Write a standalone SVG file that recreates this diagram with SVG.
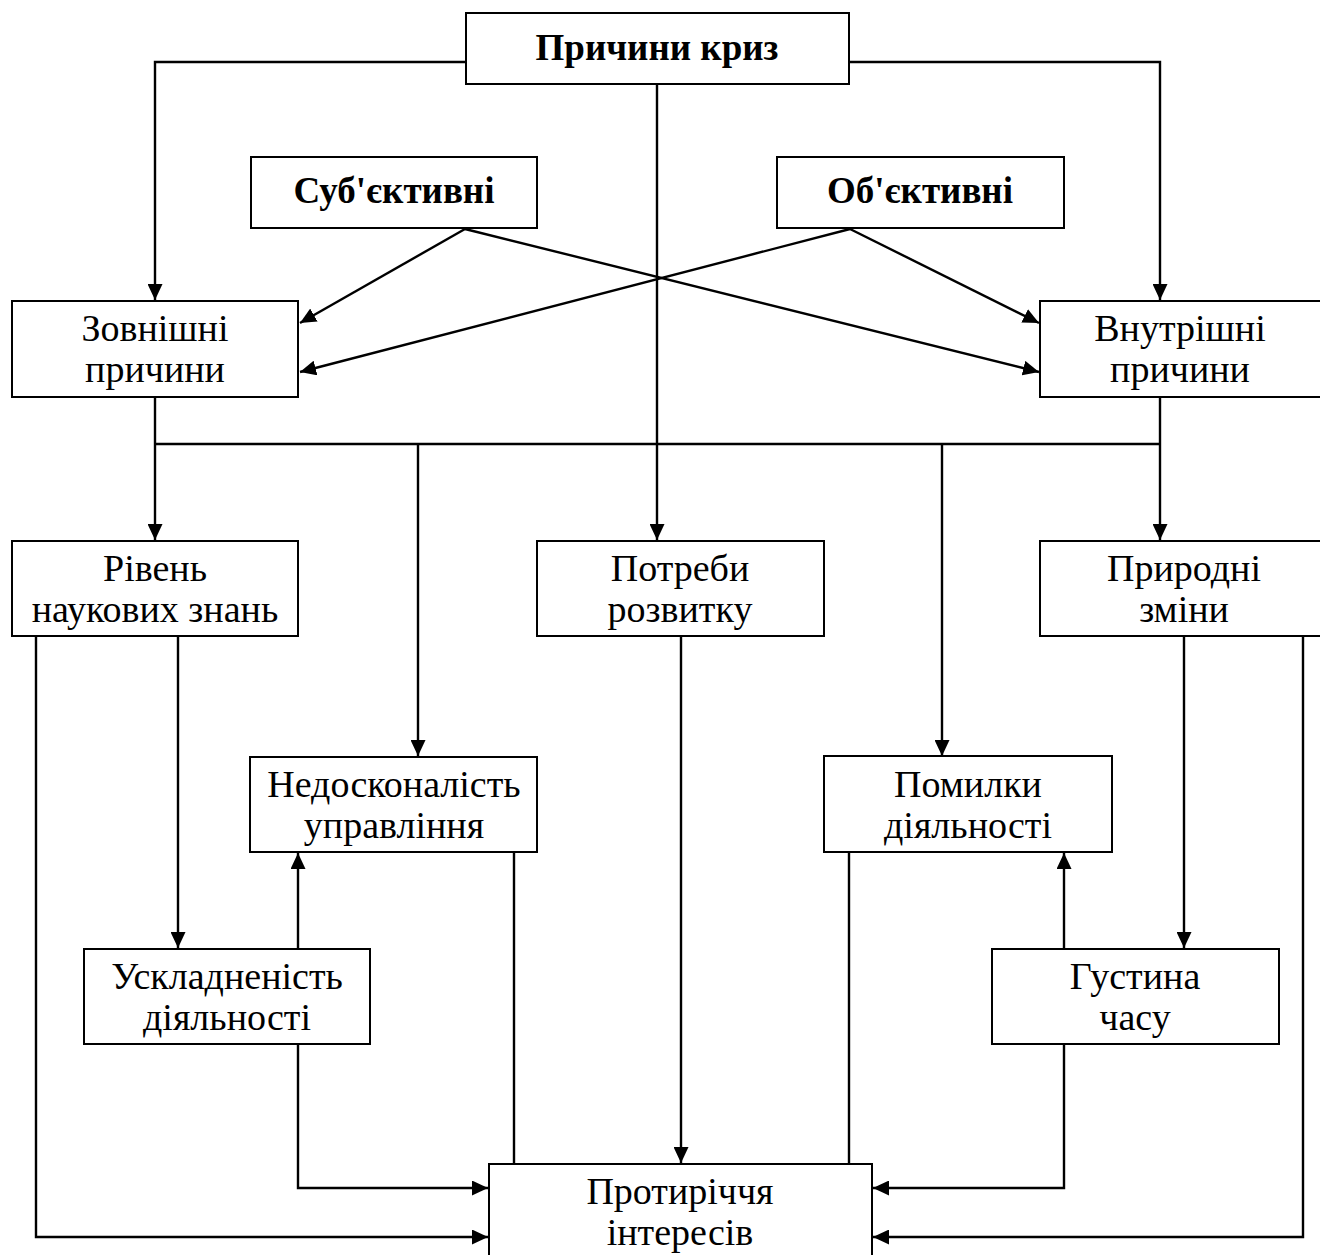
<svg xmlns="http://www.w3.org/2000/svg" width="1320" height="1255" viewBox="0 0 1320 1255">
<style>
.box{fill:#fff;stroke:#000;stroke-width:2}
.t{font-family:"Liberation Serif","Times New Roman",serif;font-size:38px;text-anchor:middle;fill:#000}
.b{font-weight:bold;font-size:37px}
.c{fill:none;stroke:#000;stroke-width:2.4}
.a{marker-end:url(#ah)}
</style>
<defs>
<marker id="ah" markerUnits="userSpaceOnUse" markerWidth="17" markerHeight="15" refX="16" refY="7.5" orient="auto" viewBox="0 0 17 15">
<path d="M0,0 L16,7.5 L0,15 z" fill="#000"/>
</marker>
</defs>
<rect width="1320" height="1255" fill="#fff"/>
<g id="connectors">
<polyline class="c a" points="466,62 155,62 155,300"/>
<polyline class="c a" points="849,62 1160,62 1160,300"/>
<polyline class="c a" points="657,85 657,540"/>
<line class="c a" x1="465" y1="229" x2="300" y2="323"/>
<line class="c a" x1="465" y1="229" x2="1039" y2="372"/>
<line class="c a" x1="850" y1="229" x2="1039" y2="323"/>
<line class="c a" x1="850" y1="229" x2="300" y2="372"/>
<line class="c" x1="155" y1="397" x2="155" y2="444"/>
<line class="c" x1="1160" y1="397" x2="1160" y2="444"/>
<line class="c" x1="155" y1="444" x2="1160" y2="444"/>
<line class="c a" x1="155" y1="444" x2="155" y2="540"/>
<line class="c a" x1="1160" y1="444" x2="1160" y2="540"/>
<line class="c a" x1="418" y1="444" x2="418" y2="756"/>
<line class="c a" x1="942" y1="444" x2="942" y2="756"/>
<polyline class="c a" points="36,636 36,1237 488,1237"/>
<line class="c a" x1="178" y1="636" x2="178" y2="948"/>
<line class="c a" x1="298" y1="949" x2="298" y2="853"/>
<polyline class="c a" points="298,1044 298,1188 488,1188"/>
<line class="c" x1="514" y1="852" x2="514" y2="1164"/>
<line class="c a" x1="681" y1="636" x2="681" y2="1163"/>
<line class="c" x1="849" y1="852" x2="849" y2="1164"/>
<line class="c a" x1="1184" y1="636" x2="1184" y2="948"/>
<line class="c a" x1="1064" y1="949" x2="1064" y2="853"/>
<polyline class="c a" points="1064,1044 1064,1188 873,1188"/>
<polyline class="c a" points="1303,636 1303,1237 873,1237"/>
</g>
<g id="n-prichyny-kryz"><rect class="box" x="466" y="13" width="383" height="71"/><text class="t b" x="657" y="60">Причини криз</text></g>
<g id="n-subjektyvni"><rect class="box" x="251" y="157" width="286" height="71"/><text class="t b" x="394" y="203">Суб'єктивні</text></g>
<g id="n-objektyvni"><rect class="box" x="777" y="157" width="287" height="71"/><text class="t b" x="920" y="203">Об'єктивні</text></g>
<g id="n-zovnishni"><rect class="box" x="12" y="301" width="286" height="96"/><text class="t" x="155" y="341">Зовнішні</text><text class="t" x="155" y="382">причини</text></g>
<g id="n-vnutrishni"><rect class="box" x="1040" y="301" width="290" height="96"/><text class="t" x="1180" y="341">Внутрішні</text><text class="t" x="1180" y="382">причини</text></g>
<g id="n-riven"><rect class="box" x="12" y="541" width="286" height="95"/><text class="t" x="155" y="581">Рівень</text><text class="t" x="155" y="622">наукових знань</text></g>
<g id="n-potreby"><rect class="box" x="537" y="541" width="287" height="95"/><text class="t" x="680" y="581">Потреби</text><text class="t" x="680" y="622">розвитку</text></g>
<g id="n-pryrodni"><rect class="box" x="1040" y="541" width="290" height="95"/><text class="t" x="1184" y="581">Природні</text><text class="t" x="1184" y="622">зміни</text></g>
<g id="n-nedoskonalist"><rect class="box" x="250" y="757" width="287" height="95"/><text class="t" x="394" y="797">Недосконалість</text><text class="t" x="394" y="838">управління</text></g>
<g id="n-pomylky"><rect class="box" x="824" y="756" width="288" height="96"/><text class="t" x="968" y="797">Помилки</text><text class="t" x="968" y="838">діяльності</text></g>
<g id="n-uskladnenist"><rect class="box" x="84" y="949" width="286" height="95"/><text class="t" x="227" y="989">Ускладненість</text><text class="t" x="227" y="1030">діяльності</text></g>
<g id="n-hustyna"><rect class="box" x="992" y="949" width="287" height="95"/><text class="t" x="1135" y="989">Густина</text><text class="t" x="1135" y="1030">часу</text></g>
<g id="n-protyrichchia"><rect class="box" x="489" y="1164" width="383" height="100"/><text class="t" x="680" y="1204">Протиріччя</text><text class="t" x="680" y="1245">інтересів</text></g>
</svg>
